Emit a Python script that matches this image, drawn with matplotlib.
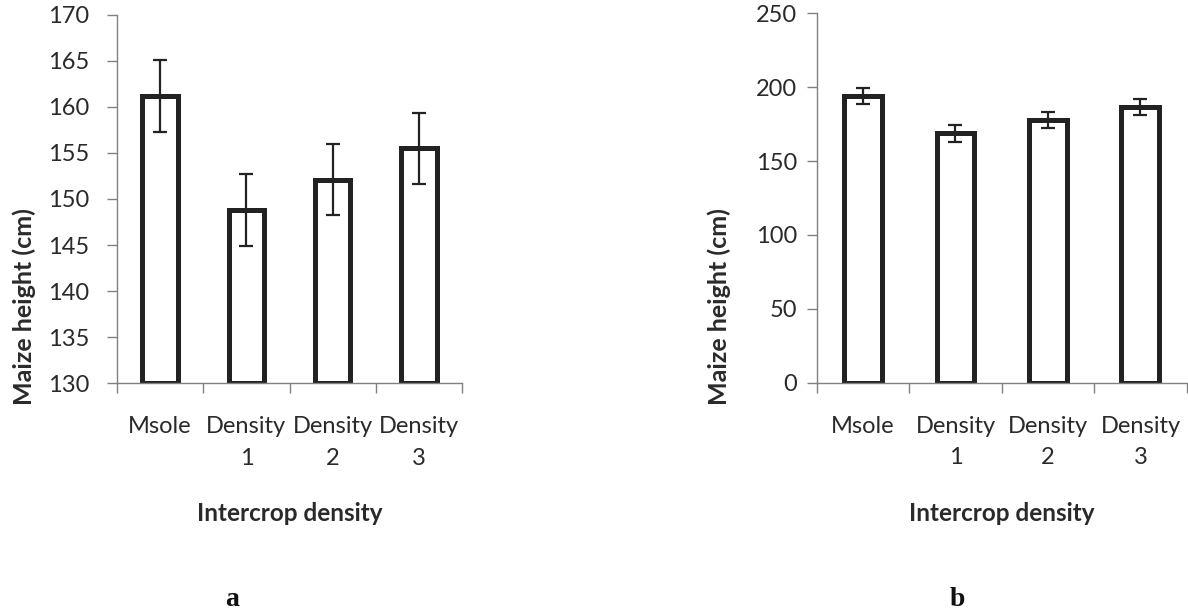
import matplotlib
matplotlib.use("Agg")
import matplotlib.pyplot as plt
import numpy as np

plt.rcParams['font.family'] = ['Lato', 'DejaVu Sans']

categories = ["Msole", "Density\n1", "Density\n2", "Density\n3"]

# panel a: maize height, zoomed axis
height_a = [161.2, 148.8, 152.1, 155.5]
err_a = [3.9, 3.95, 3.85, 3.85]
yticks_a = [130, 135, 140, 145, 150, 155, 160, 165, 170]

# panel b: maize height, full axis
height_b = [194.0, 168.8, 178.0, 186.5]
err_b = [5.6, 5.6, 5.4, 5.6]
yticks_b = [0, 50, 100, 150, 200, 250]

fig = plt.figure(figsize=(11.88, 6.14), dpi=100)
fig.patch.set_facecolor("white")

ink = "#222222"
txt = "#2a2a2a"
axis_col = "#808080"


def draw_panel(ax, values, errs, yticks, ypad, ylabel_x, panel_letter, letter_x):
    x = np.arange(len(values))
    ax.bar(x, [v - yticks[0] for v in values], bottom=yticks[0], width=0.41,
           facecolor="white", edgecolor=ink, linewidth=3.6, zorder=2)
    ax.errorbar(x, values, yerr=errs, fmt="none", ecolor=ink,
                elinewidth=1.6, capsize=5, capthick=1.6, zorder=3)
    ax.set_xlim(-0.5, len(values) - 0.5)
    ax.set_ylim(yticks[0], yticks[-1])
    ax.set_yticks(yticks)
    ax.set_xticks(x)
    ax.set_xticklabels(categories, fontsize=17, color=txt, linespacing=1.6)
    ax.set_xticks(np.arange(-0.5, len(values)), minor=True)
    ax.tick_params(axis="x", which="major", length=0, pad=24)
    ax.tick_params(axis="x", which="minor", length=7, color=axis_col,
                   width=1.0)
    ax.tick_params(axis="y", length=7, color=axis_col, width=1.0,
                   labelsize=17, labelcolor=txt, pad=ypad)
    for side in ("top", "right"):
        ax.spines[side].set_visible(False)
    for side in ("left", "bottom"):
        ax.spines[side].set_color(axis_col)
        ax.spines[side].set_linewidth(1.0)
    ax.set_ylabel("Maize height (cm)", fontsize=18, fontweight="bold",
                  color=txt)
    ax.yaxis.set_label_coords(ylabel_x, 0.5, transform=fig.transFigure)
    ax.set_xlabel("Intercrop density", fontsize=17.5, fontweight="bold",
                  color=txt, labelpad=24)
    fig.text(letter_x, 1 - 600 / 614, panel_letter, fontsize=20,
             fontweight="bold", family="Liberation Serif", ha="center",
             va="center", color="#111111")


ax_a = fig.add_axes([0.0985, 0.3762, 0.2904, 0.5994])
draw_panel(ax_a, height_a, err_a, yticks_a, 13, 36 / 1188, "a", 232 / 1188)

ax_b = fig.add_axes([0.6875, 0.3767, 0.3114, 0.6016])
draw_panel(ax_b, height_b, err_b, yticks_b, 7, 731 / 1188, "b", 957 / 1188)

fig.savefig("out.png", dpi=100, facecolor="white")
